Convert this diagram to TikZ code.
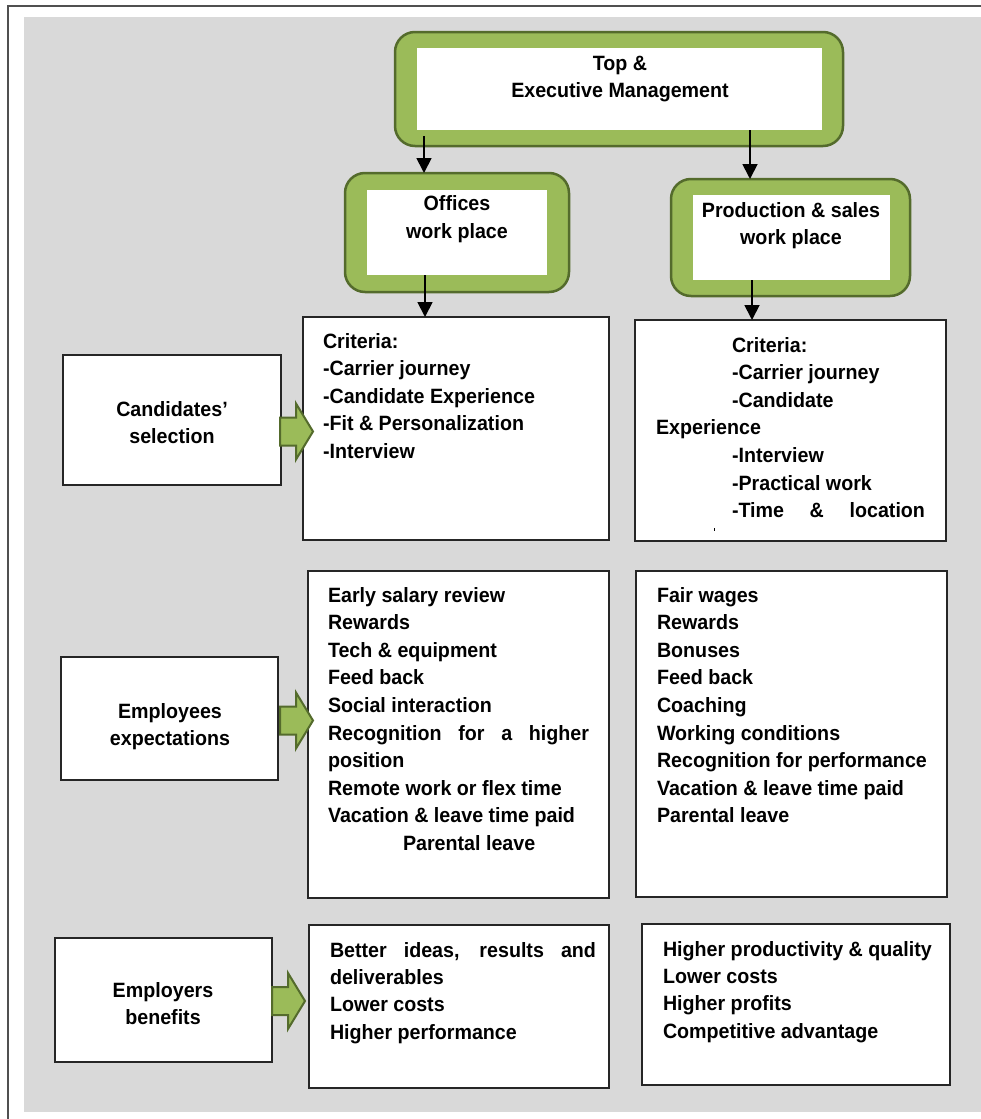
\documentclass[tikz,border=0pt]{standalone}
\usepackage{fontspec}
\setmainfont{Liberation Sans}[FakeStretch=0.95]
\usetikzlibrary{calc,arrows.meta}
\definecolor{bggray}{HTML}{D9D9D9}
\definecolor{gfill}{HTML}{9BBB59}
\definecolor{gdark}{HTML}{546B2C}
\definecolor{framec}{HTML}{505050}
\newcommand\txtfont{\fontsize{20.7}{27.6}\selectfont\bfseries}
\begin{document}
\begin{tikzpicture}[x=1pt,y=-1pt,
  gbox/.style={draw=gdark, line width=2.5pt, fill=gfill, rounded corners=20pt, inner sep=0, outer sep=0, anchor=north west},
  wbox/.style={fill=white, inner sep=0, outer sep=0, anchor=north west},
  plainbox/.style={draw=black!85, line width=1.4pt, fill=white, inner sep=0, outer sep=0, anchor=north west},
  txt/.style={font=\txtfont, inner sep=0, outer sep=0, anchor=base west},
  ctxt/.style={font=\txtfont, inner sep=0, outer sep=0, anchor=base},
  arr/.style={line width=1.8pt, -{Triangle[width=15pt,length=15pt]}},
  garrow/.style={draw=gdark, line width=2pt, fill=gfill, line join=miter},
  blockarrow/.pic={\path[garrow] (0,-14) -- (16,-14) -- (16,-28) -- (33,0) -- (16,28) -- (16,14) -- (0,14) -- cycle;}
]
\useasboundingbox (0,0) rectangle (981,1119);
% frame and background
\fill[bggray] (24,17) rectangle (981,1112);
\draw[framec, line width=2pt] (7.5,1119) -- (7.5,5.5) -- (981,5.5);

% green boxes
\node[gbox, minimum width=448pt, minimum height=114pt] (topout) at (395,32) {};
\node[wbox, minimum width=405pt, minimum height=82pt] (topin) at (417,48) {};
\node[gbox, minimum width=224pt, minimum height=119pt] (offout) at (345,173) {};
\node[wbox, minimum width=180pt, minimum height=85pt] (offin) at (367,190) {};
\node[gbox, minimum width=239pt, minimum height=117pt] (prodout) at (671,179) {};
\node[wbox, minimum width=197pt, minimum height=85pt] (prodin) at (693,195) {};

% plain boxes
\node[plainbox, minimum width=306pt, minimum height=223pt] (critL) at (303,317) {};
\node[plainbox, minimum width=311pt, minimum height=221pt] (critR) at (635,320) {};
\node[plainbox, minimum width=218pt, minimum height=130pt] (cs) at (63,355) {};
\node[plainbox, minimum width=301pt, minimum height=327pt] (expL) at (308,571) {};
\node[plainbox, minimum width=311pt, minimum height=326pt] (expR) at (636,571) {};
\node[plainbox, minimum width=217pt, minimum height=123pt] (ee) at (61,657) {};
\node[plainbox, minimum width=300pt, minimum height=163pt] (benL) at (309,925) {};
\node[plainbox, minimum width=308pt, minimum height=161pt] (benR) at (642,924) {};
\node[plainbox, minimum width=217pt, minimum height=124pt] (eb) at (55,938) {};

% black arrows
\draw[arr] ($(topin.south west)+(7,6)$) -- ($(topin.south west |- offout.north)+(7,0)$);
\draw[arr] ($(topin.south west)+(333,0)$) -- ($(topin.south west |- prodout.north)+(333,0)$);
\draw[arr] ($(offin.south west)+(58,0)$) -- ($(offin.south west |- critL.north)+(58,0)$);
\draw[arr] ($(prodin.south west)+(59,0)$) -- ($(prodin.south west |- critR.north)+(59,0)$);

% green block arrows
\pic at ($(cs.east)+(-1,11.5)$) {blockarrow};
\pic at ($(ee.east)+(2,2)$) {blockarrow};
\pic at ($(eb.east)+(0,1)$) {blockarrow};

% titles
\node[ctxt] (toptxt1) at (620,70) {Top \&};
\node[ctxt] (toptxt2) at (620,97) {Executive Management};
\node[ctxt] (offtxt1) at (457,210) {Offices};
\node[ctxt] (offtxt2) at (457,238) {work place};
\node[ctxt] (prodtxt1) at (791,217) {Production \& sales};
\node[ctxt] (prodtxt2) at (791,244) {work place};

% left labels
\node[ctxt] (cstxt1) at (172,416) {Candidates’};
\node[ctxt] (cstxt2) at (172,443) {selection};
\node[ctxt] (eetxt1) at (170,718) {Employees};
\node[ctxt] (eetxt2) at (170,745) {expectations};
\node[ctxt] (ebtxt1) at (163,997) {Employers};
\node[ctxt] (ebtxt2) at (163,1024) {benefits};

% criteria left
\foreach \t [count=\i from 0] in {Criteria:, -Carrier journey, -Candidate Experience, -Fit \& Personalization, -Interview}
  \node[txt] (cl\i) at (323,{348+27.6*\i}) {\t};

% criteria right
\node[txt] (cr0) at (732,352) {Criteria:};
\node[txt] (cr1) at (732,379.6) {-Carrier journey};
\node[txt] (cr2) at (732,407.2) {-Candidate};
\node[txt] (cr3) at (656,434.8) {Experience};
\node[txt] (cr4) at (732,462.4) {-Interview};
\node[txt] (cr5) at (732,490) {-Practical work};
\node[txt] (cr6) at (732,517.6) {\makebox[193pt][s]{-Time \& location}};
\fill (713.6,527.5) rectangle (715,531);

% expectations left
\foreach \t [count=\i from 0] in {Early salary review, Rewards, Tech \& equipment, Feed back, Social interaction, {\makebox[261pt][s]{Recognition for a higher}}, position, Remote work or flex time, Vacation \& leave time paid}
  \node[txt] (el\i) at (328,{602+27.6*\i}) {\t};
\node[txt] (el9) at (403,850.4) {Parental leave};

% expectations right
\foreach \t [count=\i from 0] in {Fair wages, Rewards, Bonuses, Feed back, Coaching, Working conditions, Recognition for performance, Vacation \& leave time paid, Parental leave}
  \node[txt] (er\i) at (657,{602+27.6*\i}) {\t};

% benefits left
\foreach \t [count=\i from 0] in {{\makebox[266pt][s]{Better ideas, results and}}, deliverables, Lower costs, Higher performance}
  \node[txt] (bl\i) at (330,{957+27.4*\i}) {\t};

% benefits right
\foreach \t [count=\i from 0] in {Higher productivity \& quality, Lower costs, Higher profits, Competitive advantage}
  \node[txt] (br\i) at (663,{956+27.4*\i}) {\t};
\end{tikzpicture}
\end{document}
